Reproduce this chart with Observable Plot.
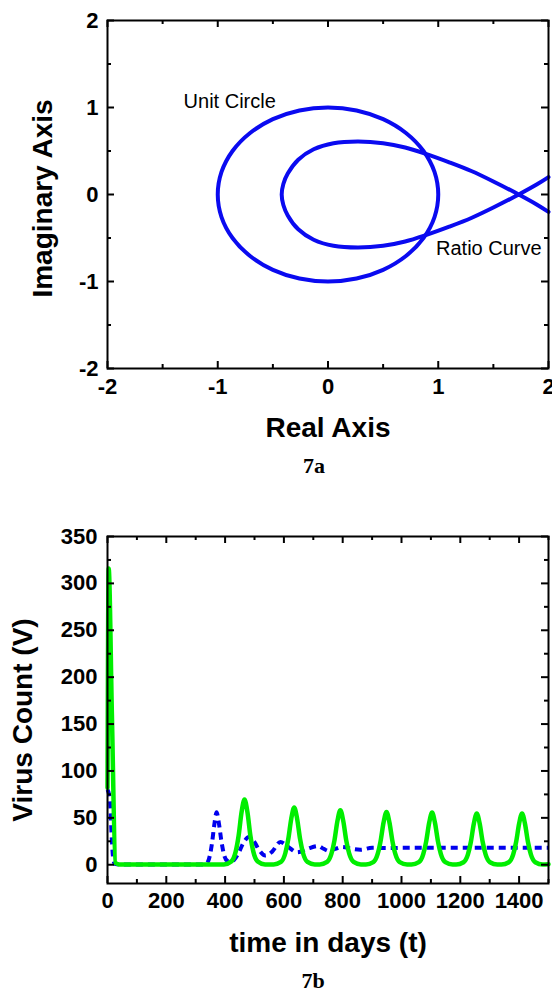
<!DOCTYPE html>
<html><head><meta charset="utf-8">
<script src="https://cdn.jsdelivr.net/npm/d3@7"></script>
<script src="https://cdn.jsdelivr.net/npm/@observablehq/plot@0.6"></script>
<style>
html,body{margin:0;padding:0;background:#fff;}
#wrap{position:relative;width:552px;height:992px;overflow:hidden;background:#fff;}
#a{position:absolute;left:0;top:0;}
#b{position:absolute;left:0;top:500px;}
.cap{position:absolute;width:40px;text-align:center;font-family:"Liberation Serif","Times New Roman",serif;font-weight:bold;font-size:22px;line-height:22px;color:#000;}
</style></head><body>
<div id="wrap">
  <div id="a"></div>
  <div class="cap" style="left:294px;top:455px">7a</div>
  <div id="b"></div>
  <div class="cap" style="left:293px;top:970px">7b</div>
</div>
<script>
// ---------- Chart 7a data ----------
const circleRe = [1, 0.966, 0.866, 0.707, 0.5, 0.259, 0, -0.259, -0.5, -0.707, -0.866, -0.966, -1, -0.966, -0.866, -0.707, -0.5, -0.259, 0, 0.259, 0.5, 0.707, 0.866, 0.966];
const circleIm = [0, 0.259, 0.5, 0.707, 0.866, 0.966, 1, 0.966, 0.866, 0.707, 0.5, 0.259, 0, -0.259, -0.5, -0.707, -0.866, -0.966, -1, -0.966, -0.866, -0.707, -0.5, -0.259];
const ratioRe = [2.0, 1.9, 1.73, 1.5, 1.3, 1.1, 0.88, 0.7, 0.5, 0.27, 0.05, -0.13, -0.27, -0.365, -0.405, -0.42, -0.405, -0.365, -0.27, -0.13, 0.05, 0.27, 0.5, 0.7, 0.88, 1.1, 1.3, 1.5, 1.73, 1.9, 2.0];
const ratioIm = [0.2, 0.12, 0, -0.15, -0.27, -0.37, -0.47, -0.54, -0.59, -0.61, -0.59, -0.52, -0.40, -0.24, -0.12, 0, 0.12, 0.24, 0.40, 0.52, 0.59, 0.61, 0.59, 0.54, 0.47, 0.37, 0.27, 0.15, 0, -0.12, -0.2];
const annotText = ["Unit Circle", "Ratio Curve"];
const annotRe = [-1.31, 0.98];
const annotIm = [1.07, -0.62];
const aMajor = [-2, -1, 0, 1, 2];
const aMinor = [-1.5, -0.5, 0.5, 1.5];

// ---------- Chart 7b data ----------
const greenT = [0, 4, 15, 27, 40,
  396, 421, 436, 446, 456, 466, 476, 486, 496, 511, 536,
  565, 590, 605, 615, 625, 635, 645, 655, 665, 680, 705,
  722, 747, 762, 772, 782, 792, 802, 812, 822, 837, 862,
  879, 904, 919, 929, 939, 949, 959, 969, 979, 994, 1019,
  1034, 1059, 1074, 1084, 1094, 1104, 1114, 1124, 1134, 1149, 1174,
  1186, 1211, 1226, 1236, 1246, 1256, 1266, 1276, 1286, 1301, 1326,
  1340, 1365, 1380, 1390, 1400, 1410, 1420, 1430, 1440, 1455, 1480, 1500];
const greenV = [82, 316, 160, 2, 0.3,
  0.3, 3.5, 14, 31, 56, 69.5, 56, 31, 14, 3.5, 0.3,
  0.3, 3, 12.5, 27.5, 49, 61, 49, 27.5, 12.5, 3, 0.3,
  0.3, 3, 12, 26, 46.5, 58, 46.5, 26, 12, 3, 0.3,
  0.3, 2.8, 11.5, 25.5, 45, 56.3, 45, 25.5, 11.5, 2.8, 0.3,
  0.3, 2.8, 11.3, 25, 44.5, 55.6, 44.5, 25, 11.3, 2.8, 0.3,
  0.3, 2.7, 11, 24.5, 43.7, 54.6, 43.7, 24.5, 11, 2.7, 0.3,
  0.3, 2.7, 11, 24.5, 43.7, 54.6, 43.7, 24.5, 11, 2.7, 0.3, 0.6];
const blueT = [0, 8, 12, 16, 20, 25, 40, 320, 335, 345, 355, 363, 371, 379, 388, 398, 408, 418, 430, 445, 460, 481, 500, 515, 537, 560, 588, 615, 645, 680, 716, 735, 752, 775, 798, 830, 860, 900, 950, 1000, 1100, 1500];
const blueV = [80, 70, 45, 20, 5, 1, 0.2, 0.2, 1, 6, 22, 42, 56, 44, 24, 9, 4, 3, 5, 12, 22, 29.6, 24, 16, 9.8, 14, 24.3, 19, 13.3, 17, 20, 17, 14.7, 17, 19, 17, 16, 18, 17.8, 18, 18, 18];
const bXMajor = [0, 200, 400, 600, 800, 1000, 1200, 1400];
const bXMinor = [100, 300, 500, 700, 900, 1100, 1300, 1500];
const bYMajor = [0, 50, 100, 150, 200, 250, 300, 350];
const bYMinor = [25, 75, 125, 175, 225, 275, 325];

const FONT = "'Liberation Sans', Arial, Helvetica, sans-serif";
const MAJ = 7, MIN = 4;
const TICKFS = 22, TITLEFS = 28;

function frameTicks(xMaj, xMin, yMaj, yMin, fw, fh) {
  const m = [];
  for (const [arr, len] of [[xMaj, MAJ], [xMin, MIN]]) {
    m.push(Plot.tickX(arr, {x: d => d, insetTop: fh - len, stroke: "black", strokeWidth: 2}));
    m.push(Plot.tickX(arr, {x: d => d, insetBottom: fh - len, stroke: "black", strokeWidth: 2}));
  }
  for (const [arr, len] of [[yMaj, MAJ], [yMin, MIN]]) {
    m.push(Plot.tickY(arr, {y: d => d, insetRight: fw - len, stroke: "black", strokeWidth: 2}));
    m.push(Plot.tickY(arr, {y: d => d, insetLeft: fw - len, stroke: "black", strokeWidth: 2}));
  }
  return m;
}

// ---------- Chart 7a ----------
{
  const W = 552, H = 450, mt = 20, mb = 82, ml = 107, mr = 4;
  const fw = W - ml - mr, fh = H - mt - mb;
  const circle = circleRe.map((x, i) => ({x, y: circleIm[i]}));
  const ratio = ratioRe.map((x, i) => ({x, y: ratioIm[i]}));
  const annots = annotText.map((t, i) => ({t, x: annotRe[i], y: annotIm[i]}));
  const chart = Plot.plot({
    width: W, height: H, marginTop: mt, marginBottom: mb, marginLeft: ml, marginRight: mr,
    x: {domain: [-2, 2]},
    y: {domain: [-2, 2]},
    style: {fontFamily: FONT, fontSize: "20px", color: "black", background: "white", overflow: "visible"},
    marks: [
      Plot.line(circle, {x: "x", y: "y", curve: "catmull-rom-closed", stroke: "#0a0af0", strokeWidth: 4}),
      Plot.line(ratio, {x: "x", y: "y", curve: "catmull-rom", stroke: "#0a0af0", strokeWidth: 4}),
      Plot.text(annots, {x: "x", y: "y", text: "t", textAnchor: "start", lineAnchor: "middle", fontSize: 20, fill: "black"}),
      ...frameTicks(aMajor, aMinor, aMajor, aMinor, fw, fh),
      Plot.frame({stroke: "black", strokeWidth: 2}),
      Plot.axisX({ticks: aMajor, tickSize: 0, tickPadding: 10, tickFormat: d => String(d), label: null, fontSize: TICKFS, fontWeight: "bold"}),
      Plot.axisY({ticks: aMajor, tickSize: 0, tickPadding: 9, tickFormat: d => String(d), label: null, fontSize: TICKFS, fontWeight: "bold"}),
      Plot.text(["Real Axis"], {text: d => d, frameAnchor: "bottom", textAnchor: "middle", lineAnchor: "middle", dy: 60, fontSize: TITLEFS, fontWeight: "bold", fill: "black"}),
      Plot.text(["Imaginary Axis"], {text: d => d, frameAnchor: "left", textAnchor: "middle", lineAnchor: "middle", rotate: -90, dx: -64, dy: 4, fontSize: TITLEFS, fontWeight: "bold", fill: "black"})
    ]
  });
  document.getElementById("a").appendChild(chart);
}

// ---------- Chart 7b ----------
{
  const W = 552, H = 470, mt = 36, mb = 87, ml = 107, mr = 4;
  const fw = W - ml - mr, fh = H - mt - mb;
  const green = greenT.map((t, i) => ({t, v: greenV[i]}));
  const blue = blueT.map((t, i) => ({t, v: blueV[i]}));
  const chart = Plot.plot({
    width: W, height: H, marginTop: mt, marginBottom: mb, marginLeft: ml, marginRight: mr,
    x: {domain: [0, 1500]},
    y: {domain: [-20, 350]},
    style: {fontFamily: FONT, fontSize: "20px", color: "black", background: "white", overflow: "visible"},
    marks: [
      Plot.line(blue, {x: "t", y: "v", curve: "monotone-x", stroke: "#0000ee", strokeWidth: 4, strokeDasharray: "7,5", strokeLinecap: "butt"}),
      Plot.line(green, {x: "t", y: "v", curve: "monotone-x", stroke: "#00ee00", strokeWidth: 4.5}),
      ...frameTicks(bXMajor, bXMinor, bYMajor, bYMinor, fw, fh),
      Plot.frame({stroke: "black", strokeWidth: 2}),
      Plot.axisX({ticks: bXMajor, tickSize: 0, tickPadding: 9, tickFormat: d => String(d), label: null, fontSize: TICKFS, fontWeight: "bold"}),
      Plot.axisY({ticks: bYMajor, tickSize: 0, tickPadding: 10, tickFormat: d => String(d), label: null, fontSize: TICKFS, fontWeight: "bold"}),
      Plot.text(["time in days (t)"], {text: d => d, frameAnchor: "bottom", textAnchor: "middle", lineAnchor: "middle", dy: 60, fontSize: TITLEFS, fontWeight: "bold", fill: "black"}),
      Plot.text(["Virus Count (V)"], {text: d => d, frameAnchor: "left", textAnchor: "middle", lineAnchor: "middle", rotate: -90, dx: -84, dy: 10, fontSize: TITLEFS, fontWeight: "bold", fill: "black"})
    ]
  });
  document.getElementById("b").appendChild(chart);
}
</script>
</body></html>
